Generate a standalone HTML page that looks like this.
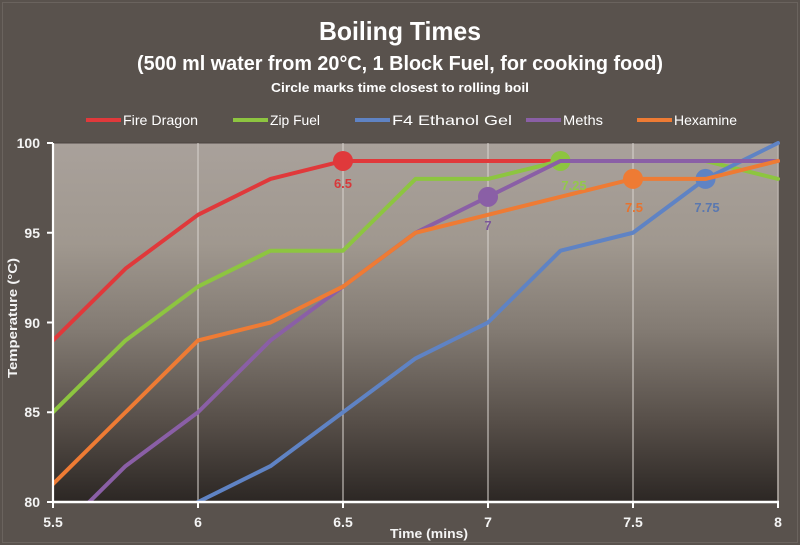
<!DOCTYPE html>
<html>
<head>
<meta charset="utf-8">
<style>
  html, body { margin:0; padding:0; background:#59524d; }
  svg { display:block; }
  text { font-family: "Liberation Sans", "DejaVu Sans", sans-serif; font-weight:bold; }
</style>
</head>
<body>
<svg width="800" height="545" viewBox="0 0 800 545" xmlns="http://www.w3.org/2000/svg">
  <defs>
    <linearGradient id="bg" x1="0" y1="0" x2="0" y2="1">
      <stop offset="0" stop-color="#a9a19b"/>
      <stop offset="0.28" stop-color="#a0988f"/>
      <stop offset="0.52" stop-color="#837b73"/>
      <stop offset="0.78" stop-color="#564e48"/>
      <stop offset="1" stop-color="#2c2724"/>
    </linearGradient>
    <clipPath id="plot">
      <rect x="53" y="141" width="727" height="361"/>
    </clipPath>
  </defs>

  <rect x="0" y="0" width="800" height="545" fill="#59524d"/>
  <rect x="2.5" y="2.5" width="795" height="540" fill="none" stroke="#6a635e" stroke-width="1"/>

  <!-- Titles -->
  <text x="400" y="40" text-anchor="middle" font-size="26" fill="#ffffff" textLength="162" lengthAdjust="spacingAndGlyphs">Boiling Times</text>
  <text x="400" y="70" text-anchor="middle" font-size="20" fill="#ffffff" textLength="526" lengthAdjust="spacingAndGlyphs">(500 ml water from 20°C, 1 Block Fuel, for cooking food)</text>
  <text x="400" y="92" text-anchor="middle" font-size="13" fill="#ffffff" textLength="258" lengthAdjust="spacingAndGlyphs">Circle marks time closest to rolling boil</text>

  <!-- Legend -->
  <g font-size="14" fill="#ffffff">
    <line x1="86" y1="120" x2="121" y2="120" stroke="#e0393b" stroke-width="4"/>
    <text x="123" y="125" style="font-weight:normal" textLength="75" lengthAdjust="spacingAndGlyphs">Fire Dragon</text>
    <line x1="233" y1="120" x2="268" y2="120" stroke="#8dc540" stroke-width="4"/>
    <text x="270" y="125" style="font-weight:normal" textLength="50" lengthAdjust="spacingAndGlyphs">Zip Fuel</text>
    <line x1="355" y1="120" x2="390" y2="120" stroke="#5f83c4" stroke-width="4"/>
    <text x="392" y="125" style="font-weight:normal" textLength="120" lengthAdjust="spacingAndGlyphs">F4 Ethanol Gel</text>
    <line x1="526" y1="120" x2="561" y2="120" stroke="#8a5fa6" stroke-width="4"/>
    <text x="563" y="125" style="font-weight:normal" textLength="40" lengthAdjust="spacingAndGlyphs">Meths</text>
    <line x1="637" y1="120" x2="672" y2="120" stroke="#ee7b34" stroke-width="4"/>
    <text x="674" y="125" style="font-weight:normal" textLength="63" lengthAdjust="spacingAndGlyphs">Hexamine</text>
  </g>

  <!-- Plot area -->
  <rect x="53" y="143" width="725" height="359" fill="url(#bg)"/>
  <line x1="778" y1="143" x2="778" y2="502" stroke="#b9b2ac" stroke-width="1.5"/>
  <line x1="53" y1="143" x2="778" y2="143" stroke="#4a4440" stroke-width="1"/>

  <!-- vertical gridlines -->
  <g stroke="#d9d4cf" stroke-width="1.2" opacity="0.85">
    <line x1="198" y1="143" x2="198" y2="502"/>
    <line x1="343" y1="143" x2="343" y2="502"/>
    <line x1="488" y1="143" x2="488" y2="502"/>
    <line x1="633" y1="143" x2="633" y2="502"/>
  </g>

  <!-- Series -->
  <g clip-path="url(#plot)" fill="none" stroke-width="4" stroke-linejoin="round" stroke-linecap="round">
    <polyline stroke="#e0393b" points="53,340.45 125.5,268.65 198,214.8 270.5,178.9 343,160.95 415.5,160.95 488,160.95 560.5,160.95 633,160.95 705.5,160.95 778,160.95"/>
    <circle cx="343" cy="160.95" r="10" fill="#e0393b" stroke="none"/>
    <polyline stroke="#8dc540" points="53,412.25 125.5,340.45 198,286.6 270.5,250.7 343,250.7 415.5,178.9 488,178.9 560.5,160.95 633,160.95 705.5,160.95 778,178.9"/>
    <circle cx="560.5" cy="160.95" r="10" fill="#8dc540" stroke="none"/>
    <polyline stroke="#5f83c4" points="125.5,555 198,502 270.5,466.1 343,412.25 415.5,358.4 488,322.5 560.5,250.7 633,232.75 705.5,178.9 778,143"/>
    <circle cx="705.5" cy="178.9" r="10" fill="#5f83c4" stroke="none"/>
    <polyline stroke="#8a5fa6" points="53,537.9 125.5,466.1 198,412.25 270.5,340.45 343,286.6 415.5,232.75 488,196.85 560.5,160.95 633,160.95 705.5,160.95 778,160.95"/>
    <circle cx="488" cy="196.85" r="10" fill="#8a5fa6" stroke="none"/>
    <polyline stroke="#ee7b34" points="53,484.05 125.5,412.25 198,340.45 270.5,322.5 343,286.6 415.5,232.75 488,214.8 560.5,196.85 633,178.9 705.5,178.9 778,160.95"/>
    <circle cx="633" cy="178.9" r="10" fill="#ee7b34" stroke="none"/>
  </g>

  <!-- marker labels -->
  <g font-size="13" text-anchor="middle">
    <text x="343" y="188" fill="#d8383a">6.5</text>
    <text x="488" y="230" fill="#7a569a">7</text>
    <text x="574" y="190" fill="#93c84a">7.25</text>
    <text x="634" y="212" fill="#e8732e">7.5</text>
    <text x="707" y="212" fill="#5a78b0">7.75</text>
  </g>

  <!-- Axes -->
  <line x1="53" y1="143" x2="53" y2="503" stroke="#ffffff" stroke-width="2.2"/>
  <line x1="52" y1="502" x2="779" y2="502" stroke="#ffffff" stroke-width="2.6"/>
  <g stroke="#ffffff" stroke-width="2">
    <line x1="47" y1="143" x2="53" y2="143"/>
    <line x1="47" y1="232.75" x2="53" y2="232.75"/>
    <line x1="47" y1="322.5" x2="53" y2="322.5"/>
    <line x1="47" y1="412.25" x2="53" y2="412.25"/>
    <line x1="47" y1="502" x2="53" y2="502"/>
    <line x1="53" y1="502" x2="53" y2="508"/>
    <line x1="198" y1="502" x2="198" y2="508"/>
    <line x1="343" y1="502" x2="343" y2="508"/>
    <line x1="488" y1="502" x2="488" y2="508"/>
    <line x1="633" y1="502" x2="633" y2="508"/>
    <line x1="778" y1="502" x2="778" y2="508"/>
  </g>

  <!-- Y tick labels -->
  <g font-size="14" fill="#f4f4f4" text-anchor="end">
    <text x="40" y="148">100</text>
    <text x="40" y="238">95</text>
    <text x="40" y="328">90</text>
    <text x="40" y="417">85</text>
    <text x="40" y="507">80</text>
  </g>

  <!-- X tick labels -->
  <g font-size="14" fill="#f4f4f4" text-anchor="middle">
    <text x="53" y="527">5.5</text>
    <text x="198" y="527">6</text>
    <text x="343" y="527">6.5</text>
    <text x="488" y="527">7</text>
    <text x="633" y="527">7.5</text>
    <text x="778" y="527">8</text>
  </g>

  <!-- Axis titles -->
  <text x="429" y="538" font-size="13" fill="#f4f4f4" text-anchor="middle" textLength="78" lengthAdjust="spacingAndGlyphs">Time (mins)</text>
  <text transform="translate(17,318) rotate(-90)" font-size="13" fill="#f4f4f4" text-anchor="middle" textLength="120" lengthAdjust="spacingAndGlyphs">Temperature (°C)</text>
</svg>
</body>
</html>
